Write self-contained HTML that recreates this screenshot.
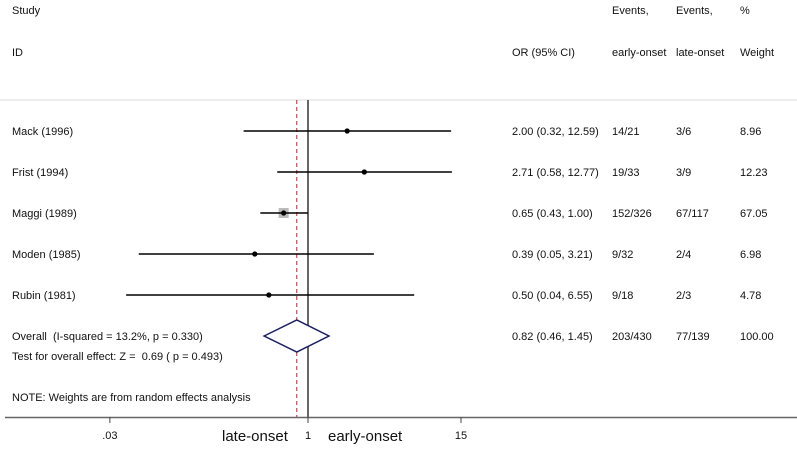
<!DOCTYPE html>
<html><head><meta charset="utf-8"><style>
body{margin:0;background:#fff}
svg text{font-family:"Liberation Sans",sans-serif;font-size:11px;fill:#111;white-space:pre}
</style></head><body>
<svg width="797" height="445" xmlns="http://www.w3.org/2000/svg" id="plot" xml:space="preserve">
<g>
<text x="12" y="14">Study</text>
<text x="12" y="56">ID</text>
<text x="512" y="56">OR (95% CI)</text>
<text x="612" y="14">Events,</text><text x="612" y="56">early-onset</text>
<text x="676" y="14">Events,</text><text x="676" y="56">late-onset</text>
<text x="740" y="14">%</text><text x="740" y="56">Weight</text>
</g>
<line x1="0" x2="797" y1="100" y2="100" stroke="#d4cccc" stroke-width="0.8"/>
<g id="marks"></g>
<text x="12" y="360">Test for overall effect: Z =  0.69 ( p = 0.493)</text>
<text x="12" y="401">NOTE: Weights are from random effects analysis</text>
<line x1="5" x2="797" y1="417.5" y2="417.5" stroke="#666" stroke-width="1.5"/>
<g id="ticks"></g>
<text x="222" y="441" style="font-size:15px">late-onset</text>
<text x="328" y="441" style="font-size:15px">early-onset</text>
</svg>
<script>
const studies=["Mack (1996)","Frist (1994)","Maggi (1989)","Moden (1985)","Rubin (1981)"];
const ors=[2.00,2.71,0.65,0.39,0.50];
const lows=[0.32,0.58,0.43,0.05,0.04];
const highs=[12.59,12.77,1.00,3.21,6.55];
const early=["14/21","19/33","152/326","9/32","9/18"];
const late=["3/6","3/9","67/117","2/4","2/3"];
const weights=[8.96,12.23,67.05,6.98,4.78];
const overall=[0.82,0.46,1.45];
const tickVals=[0.03,1,15];
const tickLabels=[".03","1","15"];
const NS="http://www.w3.org/2000/svg";
const X=v=>308+56.5*Math.log(v);
const Y=i=>131+41*i;
const g=document.getElementById('marks');
function mk(t,a,p){const e=document.createElementNS(NS,t);for(const k in a)e.setAttribute(k,a[k]);(p||g).appendChild(e);return e;}
let e;
e=mk('line',{x1:308,x2:308,y1:100,y2:417,stroke:'#666','stroke-width':2});


e=mk('line',{x1:X(overall[0]),x2:X(overall[0]),y1:100,y2:417,stroke:'#c0202a','stroke-width':1,'stroke-dasharray':'4,3'});


studies.forEach((s,i)=>{
 const y=Y(i);
 e=mk('text',{x:12,y:y+4});e.textContent=s;
 
 
 const sz=10*Math.sqrt(weights[i]/67.05);
 e=mk('rect',{x:X(ors[i])-sz/2,y:y-sz/2,width:sz,height:sz,fill:'#bbb'});
 
 
 e=mk('line',{x1:X(lows[i]),x2:X(highs[i]),y1:y,y2:y,stroke:'#000','stroke-width':1.6});
 
 
 e=mk('circle',{cx:X(ors[i]),cy:y,r:2.6,fill:'#000'});
 
 
 e=mk('text',{x:512,y:y+4});e.textContent=ors[i].toFixed(2)+" ("+lows[i].toFixed(2)+", "+highs[i].toFixed(2)+")";
 
 
 e=mk('text',{x:612,y:y+4});e.textContent=early[i];
 
 
 e=mk('text',{x:676,y:y+4});e.textContent=late[i];
 
 
 e=mk('text',{x:740,y:y+4});e.textContent=weights[i].toFixed(2);
 
 
});
const oy=336;
e=mk('polygon',{points:`${X(overall[1])},${oy} ${X(overall[0])},${oy-16} ${X(overall[2])},${oy} ${X(overall[0])},${oy+16}`,fill:'#fff',stroke:'#1a1f5e','stroke-width':1.5});


e=mk('text',{x:12,y:oy+4});e.textContent="Overall  (I-squared = 13.2%, p = 0.330)";


e=mk('text',{x:512,y:oy+4});e.textContent="0.82 (0.46, 1.45)";


e=mk('text',{x:612,y:oy+4});e.textContent="203/430";


e=mk('text',{x:676,y:oy+4});e.textContent="77/139";


e=mk('text',{x:740,y:oy+4});e.textContent="100.00";


const tg=document.getElementById('ticks');
tickVals.forEach((v,i)=>{
 e=mk('line',{x1:X(v),x2:X(v),y1:417,y2:423,stroke:'#444'},tg);
 
 
 e=mk('text',{x:X(v),y:439,'text-anchor':'middle'},tg);e.textContent=tickLabels[i];
 
 
});
</script>
</body></html>
